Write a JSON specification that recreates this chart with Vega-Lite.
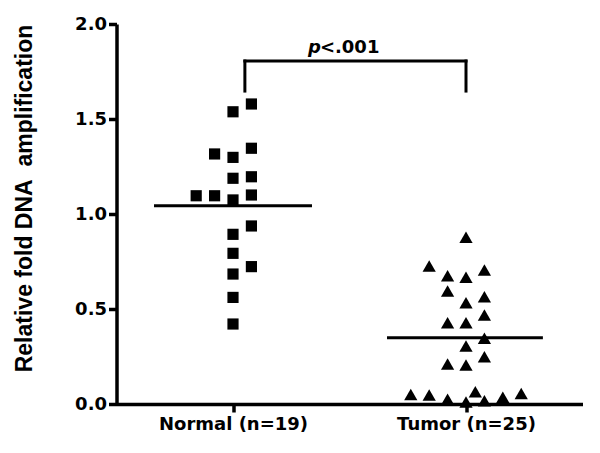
{
  "$schema": "https://vega.github.io/schema/vega-lite/v6.json",
  "width": 466,
  "height": 380,
  "autosize": "none",
  "padding": {"left": 116.5, "top": 24, "right": 17.5, "bottom": 49},
  "background": "white",
  "config": {"view": {"stroke": null}, "font": "DejaVu Sans"},
  "datasets": {
    "points": [
      {"group": "Normal", "pos": 1.079, "value": 1.579},
      {"group": "Normal", "pos": 1.0, "value": 1.538},
      {"group": "Normal", "pos": 0.921, "value": 1.316},
      {"group": "Normal", "pos": 1.0, "value": 1.298},
      {"group": "Normal", "pos": 1.079, "value": 1.346},
      {"group": "Normal", "pos": 1.0, "value": 1.188},
      {"group": "Normal", "pos": 1.079, "value": 1.196},
      {"group": "Normal", "pos": 0.842, "value": 1.096},
      {"group": "Normal", "pos": 0.921, "value": 1.096},
      {"group": "Normal", "pos": 1.0, "value": 1.074},
      {"group": "Normal", "pos": 1.079, "value": 1.1},
      {"group": "Normal", "pos": 1.079, "value": 0.937},
      {"group": "Normal", "pos": 1.0, "value": 0.893},
      {"group": "Normal", "pos": 1.0, "value": 0.793},
      {"group": "Normal", "pos": 1.079, "value": 0.723},
      {"group": "Normal", "pos": 1.0, "value": 0.684},
      {"group": "Normal", "pos": 1.0, "value": 0.561},
      {"group": "Normal", "pos": 1.0, "value": 0.421},
      {"group": "Tumor", "pos": 2.0, "value": 0.878},
      {"group": "Tumor", "pos": 1.842, "value": 0.726},
      {"group": "Tumor", "pos": 1.921, "value": 0.675},
      {"group": "Tumor", "pos": 2.0, "value": 0.667},
      {"group": "Tumor", "pos": 2.079, "value": 0.705},
      {"group": "Tumor", "pos": 1.921, "value": 0.595},
      {"group": "Tumor", "pos": 2.0, "value": 0.533},
      {"group": "Tumor", "pos": 2.079, "value": 0.565},
      {"group": "Tumor", "pos": 1.921, "value": 0.428},
      {"group": "Tumor", "pos": 2.0, "value": 0.428},
      {"group": "Tumor", "pos": 2.079, "value": 0.468},
      {"group": "Tumor", "pos": 2.079, "value": 0.346},
      {"group": "Tumor", "pos": 2.0, "value": 0.305},
      {"group": "Tumor", "pos": 2.079, "value": 0.249},
      {"group": "Tumor", "pos": 1.921, "value": 0.211},
      {"group": "Tumor", "pos": 2.0, "value": 0.205},
      {"group": "Tumor", "pos": 1.763, "value": 0.05},
      {"group": "Tumor", "pos": 1.842, "value": 0.047},
      {"group": "Tumor", "pos": 1.921, "value": 0.025},
      {"group": "Tumor", "pos": 2.0, "value": 0.01},
      {"group": "Tumor", "pos": 2.04, "value": 0.065},
      {"group": "Tumor", "pos": 2.079, "value": 0.017},
      {"group": "Tumor", "pos": 2.158, "value": 0.035},
      {"group": "Tumor", "pos": 2.237, "value": 0.055}
    ],
    "means": [
      {"group": "Normal", "xs": 0.661, "xe": 1.339, "mean": 1.044},
      {"group": "Tumor", "xs": 1.661, "xe": 2.33, "mean": 0.349}
    ],
    "bracket": [
      {"x1": 1.051, "x2": 2.0, "y1": 1.805, "y2": 1.805},
      {"x1": 1.051, "x2": 1.051, "y1": 1.805, "y2": 1.647},
      {"x1": 2.0, "x2": 2.0, "y1": 1.805, "y2": 1.647}
    ],
    "pval": [
      {"part": "p", "px": 1.373, "py": 1.847},
      {"part": "<.001", "px": 1.373, "py": 1.847}
    ]
  },
  "layer": [
    {
      "data": {"name": "points"},
      "mark": {"type": "point", "filled": true, "opacity": 1, "color": "black", "strokeWidth": 0},
      "encoding": {
        "x": {
          "field": "pos", "type": "quantitative",
          "scale": {"domain": [0.5, 2.5], "nice": false, "zero": false},
          "axis": {
            "title": null, "values": [1, 2],
            "labelExpr": "datum.value == 1 ? 'Normal (n=19)' : 'Tumor (n=25)'",
            "grid": false, "domainColor": "black", "domainWidth": 3.5,
            "tickColor": "black", "tickWidth": 3.5, "tickSize": 8,
            "labelFont": "DejaVu Sans", "labelFontWeight": "bold", "labelFontSize": 18,
            "labelColor": "black", "labelPadding": 3, "labelFlush": false, "labelOverlap": false
          }
        },
        "y": {
          "field": "value", "type": "quantitative",
          "scale": {"domain": [0, 2], "nice": false, "zero": true},
          "axis": {
            "title": "Relative fold DNA\u00a0 amplification",
            "values": [0, 0.5, 1, 1.5, 2], "format": ".1f",
            "grid": false, "domainColor": "black", "domainWidth": 3.5,
            "tickColor": "black", "tickWidth": 3.5, "tickSize": 8,
            "labelFont": "DejaVu Sans", "labelFontWeight": "bold", "labelFontSize": 18,
            "labelColor": "black", "labelPadding": 2, "labelOverlap": false,
            "titleFont": "Liberation Sans", "titleFontSize": 23, "titleFontWeight": "bold",
            "titleColor": "black", "titleX": -92, "titleY": 174, "titleAngle": -90,
            "titleAlign": "center", "titleBaseline": "middle"
          }
        },
        "shape": {
          "field": "group", "type": "nominal",
          "scale": {"domain": ["Normal", "Tumor"], "range": ["square", "triangle-up"]},
          "legend": null
        },
        "size": {
          "field": "group", "type": "nominal",
          "scale": {"domain": ["Normal", "Tumor"], "range": [125, 175]},
          "legend": null
        }
      }
    },
    {
      "data": {"name": "means"},
      "mark": {"type": "rule", "color": "black", "strokeWidth": 3},
      "encoding": {
        "x": {"field": "xs", "type": "quantitative"},
        "x2": {"field": "xe"},
        "y": {"field": "mean", "type": "quantitative"}
      }
    },
    {
      "data": {"name": "bracket"},
      "mark": {"type": "rule", "color": "black", "strokeWidth": 3, "strokeCap": "square"},
      "encoding": {
        "x": {"field": "x1", "type": "quantitative"},
        "x2": {"field": "x2"},
        "y": {"field": "y1", "type": "quantitative"},
        "y2": {"field": "y2"}
      }
    },
    {
      "data": {"name": "pval"},
      "transform": [{"filter": "datum.part == 'p'"}],
      "mark": {"type": "text", "font": "DejaVu Sans", "fontSize": 18, "fontWeight": "bold", "fontStyle": "italic", "align": "right", "baseline": "alphabetic", "color": "black", "dx": 1},
      "encoding": {
        "x": {"field": "px", "type": "quantitative"},
        "y": {"field": "py", "type": "quantitative"},
        "text": {"field": "part"}
      }
    },
    {
      "data": {"name": "pval"},
      "transform": [{"filter": "datum.part != 'p'"}],
      "mark": {"type": "text", "font": "DejaVu Sans", "fontSize": 18, "fontWeight": "bold", "align": "left", "baseline": "alphabetic", "color": "black"},
      "encoding": {
        "x": {"field": "px", "type": "quantitative"},
        "y": {"field": "py", "type": "quantitative"},
        "text": {"field": "part"}
      }
    }
  ]
}
